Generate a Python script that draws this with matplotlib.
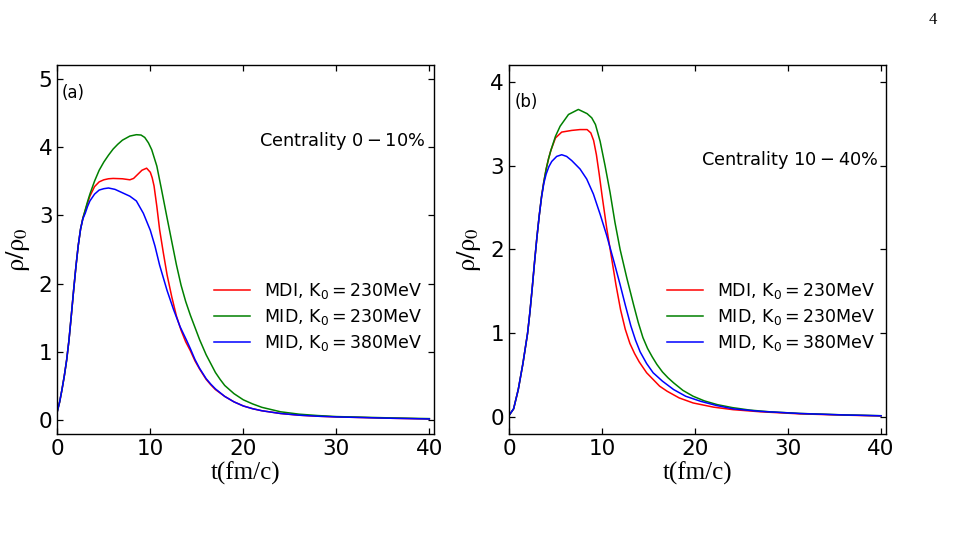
import matplotlib
matplotlib.use("Agg")
import matplotlib.pyplot as plt

# ---------------- data: panel (a), centrality 0-10% ----------------
t_a_mdi = [0, 0.25, 0.5, 0.75, 1.0, 1.25, 1.5, 1.75, 2.0, 2.25, 2.5, 2.75, 3.0, 3.25,
           3.5, 4.0, 4.5, 5.0, 5.5, 6.0, 7.0, 7.8, 8.2, 8.5, 8.8, 9.1, 9.6, 10.0, 10.2,
           10.4, 10.7, 11.0, 11.4, 11.8, 12.3, 12.8, 13.3, 13.8, 14.3, 14.8, 15.3, 16.0,
           16.5, 17.0, 18.0, 19.0, 20.0, 21.0, 22.0, 24.0, 26.0, 28.0, 30.0, 33.0, 36.0,
           40.0]
v_a_mdi = [0.13, 0.27, 0.45, 0.65, 0.88, 1.17, 1.53, 1.9, 2.25, 2.56, 2.8, 2.96, 3.07,
           3.18, 3.28, 3.42, 3.49, 3.52, 3.535, 3.54, 3.535, 3.52, 3.54, 3.58, 3.62, 3.66,
           3.69, 3.63, 3.55, 3.43, 3.13, 2.79, 2.45, 2.13, 1.81, 1.53, 1.32, 1.15, 1.02,
           0.87, 0.75, 0.60, 0.52, 0.45, 0.35, 0.27, 0.21, 0.17, 0.14, 0.10, 0.075, 0.06,
           0.05, 0.04, 0.03, 0.02]

t_a_mid230 = [0, 0.25, 0.5, 0.75, 1.0, 1.25, 1.5, 1.75, 2.0, 2.25, 2.5, 2.75, 3.0, 3.25,
              3.5, 4.0, 4.5, 5.0, 5.5, 6.0, 6.5, 7.0, 7.8, 8.5, 9.0, 9.4, 9.8, 10.15,
              10.7, 11.2, 11.76, 12.3, 12.8, 13.3, 13.8, 14.3, 14.8, 15.3, 16.0, 16.5,
              17.0, 17.5, 18.0, 19.0, 20.0, 21.0, 22.0, 24.0, 26.0, 28.0, 30.0, 33.0,
              36.0, 40.0]
v_a_mid230 = [0.13, 0.27, 0.45, 0.65, 0.88, 1.17, 1.53, 1.9, 2.25, 2.56, 2.8, 2.96, 3.08,
              3.2, 3.31, 3.50, 3.66, 3.78, 3.88, 3.97, 4.04, 4.10, 4.16, 4.18, 4.175,
              4.14, 4.06, 3.96, 3.72, 3.38, 2.99, 2.62, 2.28, 1.98, 1.74, 1.54, 1.36,
              1.18, 0.96, 0.83, 0.70, 0.60, 0.51, 0.39, 0.30, 0.24, 0.19, 0.125, 0.09,
              0.07, 0.055, 0.045, 0.035, 0.025]

t_a_mid380 = [0, 0.25, 0.5, 0.75, 1.0, 1.25, 1.5, 1.75, 2.0, 2.25, 2.5, 2.75, 3.0, 3.25,
              3.5, 4.0, 4.5, 5.0, 5.5, 6.2, 7.0, 7.8, 8.5, 9.25, 10.0, 10.5, 11.0, 11.8,
              12.5, 13.2, 13.9, 14.3, 14.8, 15.3, 16.0, 16.5, 17.0, 18.0, 19.0, 20.0,
              21.0, 22.0, 24.0, 26.0, 28.0, 30.0, 33.0, 36.0, 40.0]
v_a_mid380 = [0.13, 0.27, 0.45, 0.65, 0.88, 1.17, 1.53, 1.9, 2.25, 2.56, 2.8, 2.95, 3.03,
              3.13, 3.21, 3.31, 3.37, 3.39, 3.40, 3.38, 3.33, 3.28, 3.21, 3.03, 2.78,
              2.55, 2.27, 1.90, 1.62, 1.37, 1.17, 1.05, 0.89, 0.76, 0.61, 0.53, 0.46,
              0.35, 0.27, 0.21, 0.17, 0.14, 0.10, 0.075, 0.06, 0.05, 0.04, 0.03, 0.02]

# ---------------- data: panel (b), centrality 10-40% ----------------
t_b_mdi = [0, 0.5, 1.0, 1.5, 2.0, 2.25, 2.5, 2.75, 3.0, 3.25, 3.5, 3.75, 4.0, 4.25, 4.5,
           5.0, 5.67, 6.75, 7.64, 8.4, 8.8, 9.1, 9.4, 9.7, 10.0, 10.5, 11.0, 11.5, 12.0,
           12.5, 13.0, 13.5, 14.0, 14.8, 15.5, 16.2, 17.0, 18.3, 19.8, 22.0, 24.1, 27.0,
           31.3, 36.0, 40.0]
v_b_mdi = [0.02, 0.1, 0.33, 0.64, 1.0, 1.25, 1.54, 1.85, 2.14, 2.4, 2.63, 2.81, 2.96,
           3.08, 3.18, 3.33, 3.40, 3.42, 3.43, 3.43, 3.39, 3.30, 3.13, 2.90, 2.65, 2.26,
           1.92, 1.58, 1.28, 1.05, 0.88, 0.76, 0.66, 0.53, 0.45, 0.37, 0.31, 0.23, 0.17,
           0.12, 0.09, 0.065, 0.04, 0.025, 0.015]

t_b_mid230 = [0, 0.5, 1.0, 1.5, 2.0, 2.25, 2.5, 2.75, 3.0, 3.25, 3.5, 3.75, 4.0, 4.25,
              4.5, 5.0, 5.5, 6.4, 7.46, 8.4, 8.9, 9.3, 9.8, 10.33, 10.87, 11.4, 11.95,
              12.67, 13.4, 13.9, 14.4, 14.9, 15.4, 15.9, 16.5, 17.1, 17.7, 18.7, 19.8,
              21.0, 22.4, 24.0, 25.9, 28.0, 31.3, 36.0, 40.0]
v_b_mid230 = [0.02, 0.1, 0.33, 0.64, 1.0, 1.25, 1.54, 1.85, 2.14, 2.4, 2.63, 2.81, 2.96,
              3.08, 3.18, 3.35, 3.47, 3.61, 3.67, 3.62, 3.57, 3.49, 3.29, 3.00, 2.68,
              2.32, 2.00, 1.66, 1.34, 1.13, 0.95, 0.82, 0.72, 0.63, 0.54, 0.47, 0.41,
              0.32, 0.25, 0.195, 0.15, 0.115, 0.085, 0.065, 0.045, 0.028, 0.018]

t_b_mid380 = [0, 0.5, 1.0, 1.5, 2.0, 2.25, 2.5, 2.75, 3.0, 3.25, 3.5, 3.75, 4.0, 4.3,
              4.6, 5.13, 5.67, 6.2, 6.75, 7.64, 8.36, 9.08, 9.8, 10.5, 11.3, 11.95, 12.5,
              13.1, 13.6, 14.1, 14.8, 15.5, 16.5, 17.7, 19.0, 20.6, 22.3, 24.1, 27.0,
              31.3, 36.0, 40.0]
v_b_mid380 = [0.02, 0.1, 0.33, 0.64, 1.0, 1.25, 1.54, 1.85, 2.14, 2.4, 2.62, 2.79, 2.9,
              2.99, 3.05, 3.11, 3.13, 3.11, 3.06, 2.96, 2.84, 2.66, 2.42, 2.17, 1.85,
              1.58, 1.34, 1.09, 0.92, 0.78, 0.64, 0.53, 0.43, 0.33, 0.25, 0.19, 0.14,
              0.10, 0.07, 0.044, 0.027, 0.017]

labels = [r"MDI, K$_0 = 230$MeV", r"MID, K$_0 = 230$MeV", r"MID, K$_0 = 380$MeV"]
colors = ["red", "green", "blue"]
xticks = [0, 10, 20, 30, 40]
yticks_a = [0, 1, 2, 3, 4, 5]
yticks_b = [0, 1, 2, 3, 4]

plt.rcParams["mathtext.fontset"] = "dejavusans"
plt.rcParams["font.family"] = ["DejaVu Sans"]

fig = plt.figure(figsize=(9.7, 5.35), dpi=100)
ax_a = fig.add_axes([0.0591, 0.1888, 0.3883, 0.6897])
ax_b = fig.add_axes([0.5247, 0.1888, 0.3884, 0.6897])

panels = [
    (ax_a, [(t_a_mdi, v_a_mdi), (t_a_mid230, v_a_mid230), (t_a_mid380, v_a_mid380)],
     (-0.2, 5.2), yticks_a, "(a)", (0.012, 0.924), r"Centrality $0-10\%$", (0.976, 0.795),
     (0.416, 0.318)),
    (ax_b, [(t_b_mdi, v_b_mdi), (t_b_mid230, v_b_mid230), (t_b_mid380, v_b_mid380)],
     (-0.2, 4.2), yticks_b, "(b)", (0.016, 0.90), r"Centrality $10-40\%$", (0.980, 0.742),
     (0.419, 0.318)),
]

for ax, series, ylim, yticks, tag, tagpos, cent, centpos, legpos in panels:
    for (t, v), c, lab in zip(series, colors, labels):
        ax.plot(t, v, color=c, lw=1.1, label=lab)
    ax.set_xlim(0, 40.5)
    ax.set_ylim(*ylim)
    ax.set_xticks(xticks)
    ax.set_yticks(yticks)
    ax.tick_params(direction="in", top=True, right=True, labelsize=15.5,
                   length=4, width=0.9)
    for s in ax.spines.values():
        s.set_linewidth(1.0)
    ax.set_xlabel("t(fm/c)", fontsize=18, fontfamily="Liberation Serif", labelpad=2)
    ax.set_ylabel(r"$\mathrm{\rho/\rho_0}$", fontsize=19, math_fontfamily="stix",
                  labelpad=5)
    ax.text(tagpos[0], tagpos[1], tag, transform=ax.transAxes, fontsize=12,
            ha="left", va="center")
    ax.text(centpos[0], centpos[1], cent, transform=ax.transAxes, fontsize=12.8,
            ha="right", va="center")
    ax.legend(loc="center left", bbox_to_anchor=legpos, frameon=False, fontsize=12.5,
              handlelength=2.1, handletextpad=0.8, labelspacing=0.35, borderpad=0,
              borderaxespad=0)

fig.text(0.962, 0.978, "4", fontsize=12, fontfamily="Liberation Serif",
         ha="center", va="top")

fig.savefig("out.png", dpi=100)
